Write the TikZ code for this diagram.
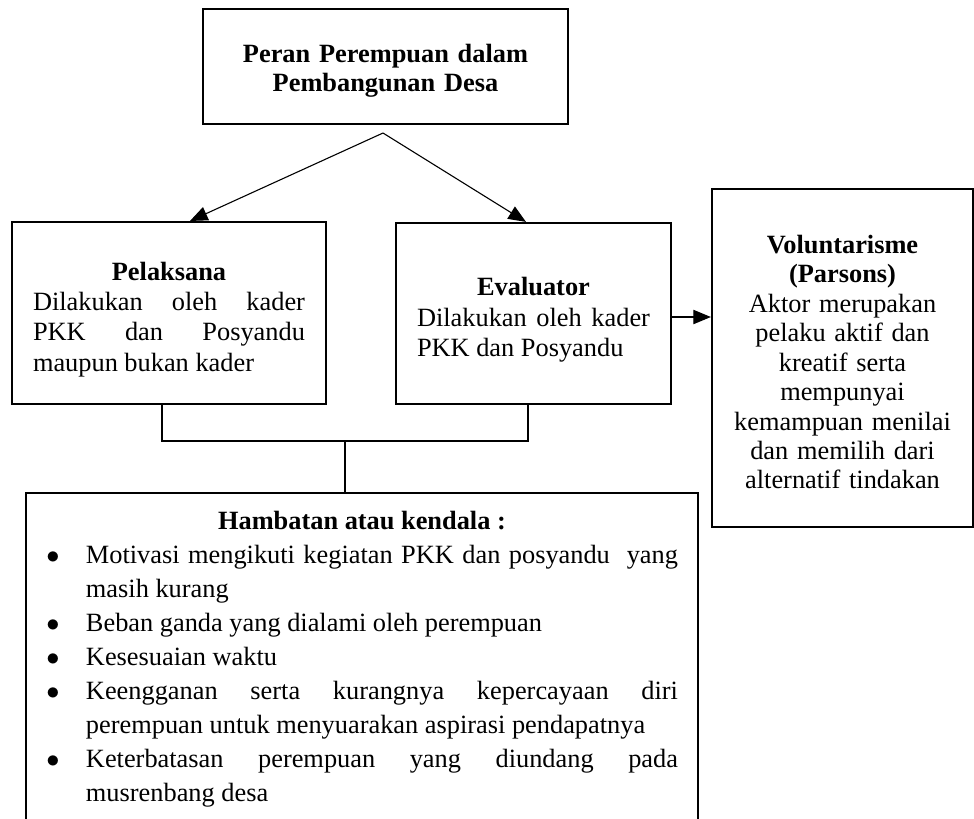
\documentclass[tikz,border=0pt]{standalone}
\usepackage{fontspec}
\setmainfont{Liberation Serif}
\usetikzlibrary{arrows.meta}

\newenvironment{kendalalist}{\begin{list}{$\bullet$}{%
  \setlength{\leftmargin}{18.2pt}\setlength{\labelsep}{12pt}\setlength{\labelwidth}{6pt}%
  \setlength{\topsep}{0pt}\setlength{\partopsep}{0pt}\setlength{\itemsep}{0pt}\setlength{\parsep}{0pt}}}{\end{list}}

\begin{document}
\begin{tikzpicture}[
    line width=0.5pt,
    box/.style={rectangle, draw, line width=1pt, inner ysep=4pt, font=\fontsize{12}{13.8}\selectfont},
    arrow/.style={-{Triangle[length=8pt, width=6.5pt]}}
]
\useasboundingbox (0,0) rectangle (15.584,-13.088);

    % Define nodes for the boxes
    \node[box, minimum width=5.84cm, text height=20.1pt, text depth=24.2pt, text width=5.2cm, align=center, font=\bfseries\fontsize{12}{13.65}\selectfont] (peran) at (6.168,-1.064) {Peran Perempuan dalam\\Pembangunan Desa};
    \node[box, minimum width=5.024cm, text height=22.5pt, text depth=52.3pt, text width=4.352cm, align=justify] (pel) at (2.704,-5.008) {\makebox[\linewidth]{\textbf{Pelaksana}}\\Dilakukan oleh kader\linebreak PKK dan Posyandu\linebreak maupun bukan kader};
    \node[box, minimum width=4.4cm, text height=29.2pt, text depth=45.2pt, text width=3.728cm, align=justify] (eva) at (8.536,-5.016) {\makebox[\linewidth]{\textbf{Evaluator}}\\Dilakukan oleh kader\linebreak PKK dan Posyandu};
    \node[box, minimum width=4.176cm, text height=25.3pt, text depth=120.5pt, text width=3.6cm, align=center, font=\fontsize{12}{13.4}\selectfont] (vol) at (13.48,-5.728) {\textbf{Voluntarisme}\\\textbf{(Parsons)}\\Aktor merupakan\\pelaku aktif dan\\kreatif serta\\mempunyai\\kemampuan menilai\\dan memilih dari\\alternatif tindakan};
    \node[box, anchor=north, minimum width=10.752cm, text height=12.4pt, text depth=150pt, text width=10.112cm, align=justify, font=\fontsize{12}{15.5}\selectfont] (hmb) at (5.792,-7.872) {\makebox[\linewidth]{\textbf{Hambatan atau kendala :}}\par
    \begin{kendalalist}
    \item Motivasi mengikuti kegiatan PKK dan posyandu~ yang\linebreak masih kurang
    \item Beban ganda yang dialami oleh perempuan
    \item Kesesuaian waktu
    \item Keengganan serta kurangnya kepercayaan diri\linebreak perempuan untuk menyuarakan aspirasi pendapatnya
    \item Keterbatasan perempuan yang diundang pada\linebreak musrenbang desa
    \end{kendalalist}};

    % Arrows from the top box
    \coordinate (apex) at (6.128,-2.128);
    \draw[arrow] (apex) -- ([xshift=0.336cm]pel.north);
    \draw[arrow] (apex) -- ([xshift=-0.12cm]eva.north);
    \draw[arrow] ([yshift=-0.056cm]eva.east) -- ([yshift=-0.056cm]eva.east -| vol.west);

    % Bracket joining both roles to the obstacles
    \coordinate (join) at (5.52,-7.056);
    \draw ([xshift=-0.112cm]pel.south) |- (join) -| ([xshift=-0.088cm]eva.south);
    \draw (join) -- (join |- hmb.north);

\end{tikzpicture}
\end{document}
